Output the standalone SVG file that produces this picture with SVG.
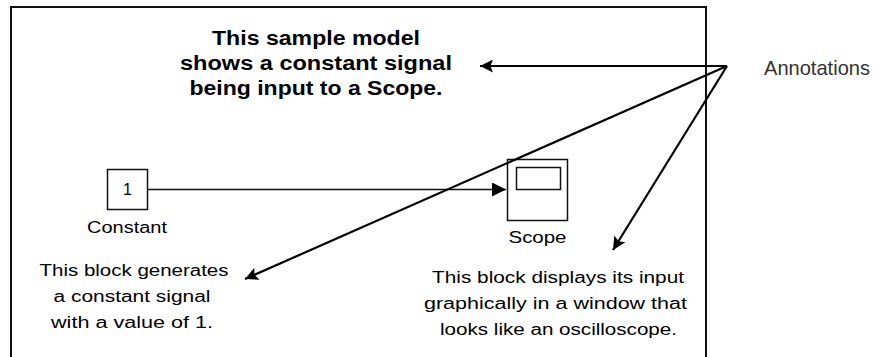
<svg xmlns="http://www.w3.org/2000/svg" width="881" height="357" viewBox="0 0 881 357">
<style>
.body{font-family:"Liberation Sans",Arial,sans-serif;font-size:16px;fill:#000;}
.title{font-family:"Liberation Sans",Arial,sans-serif;font-size:20px;font-weight:bold;fill:#000;}
.ann{font-family:"Liberation Sans",Arial,sans-serif;font-size:21px;fill:#333;}
.blk{fill:#fff;stroke:#111;stroke-width:1.5;}
.ptr{stroke:#000;stroke-width:2.2;fill:none;}
</style>
<defs>
<marker id="sig" viewBox="0 0 10 10" refX="10" refY="5" markerWidth="16" markerHeight="14" markerUnits="userSpaceOnUse" orient="auto">
<path d="M0,0 L10,5 L0,10 z" fill="#000"/>
</marker>
<marker id="ann" viewBox="0 0 10 10" refX="10" refY="5" markerWidth="16" markerHeight="13" markerUnits="userSpaceOnUse" orient="auto">
<path d="M0,0 L10,5 L0,10 L2,5 z" fill="#000"/>
</marker>
</defs>
<rect width="881" height="357" fill="#fff"/>
<g id="frame">
<path d="M11,357 L11,7 L706,7 L706,357" fill="none" stroke="#111" stroke-width="2"/>
</g>
<g id="title">
<text class="title" x="316" y="45" text-anchor="middle" textLength="208" lengthAdjust="spacingAndGlyphs">This sample model</text>
<text class="title" x="316" y="70" text-anchor="middle" textLength="272" lengthAdjust="spacingAndGlyphs">shows a constant signal</text>
<text class="title" x="316" y="95" text-anchor="middle" textLength="253" lengthAdjust="spacingAndGlyphs">being input to a Scope.</text>
</g>
<g id="constant">
<rect class="blk" x="107.5" y="169.5" width="40" height="40"/>
<text class="body" x="127.5" y="195" text-anchor="middle">1</text>
<text class="body" x="127" y="233" text-anchor="middle" textLength="80" lengthAdjust="spacingAndGlyphs">Constant</text>
</g>
<g id="scope">
<rect class="blk" x="507.5" y="159.5" width="60" height="61"/>
<rect class="blk" x="516.5" y="167.5" width="44" height="22"/>
<text class="body" x="537.5" y="243" text-anchor="middle" textLength="58" lengthAdjust="spacingAndGlyphs">Scope</text>
</g>
<g id="constant-note">
<text class="body" x="134" y="276" text-anchor="middle" textLength="189" lengthAdjust="spacingAndGlyphs">This block generates</text>
<text class="body" x="132" y="302" text-anchor="middle" textLength="157" lengthAdjust="spacingAndGlyphs">a constant signal</text>
<text class="body" x="132" y="328" text-anchor="middle" textLength="162" lengthAdjust="spacingAndGlyphs">with a value of 1.</text>
</g>
<g id="scope-note">
<text class="body" x="558" y="283" text-anchor="middle" textLength="252" lengthAdjust="spacingAndGlyphs">This block displays its input</text>
<text class="body" x="555.5" y="309" text-anchor="middle" textLength="263" lengthAdjust="spacingAndGlyphs">graphically in a window that</text>
<text class="body" x="558.5" y="335" text-anchor="middle" textLength="237" lengthAdjust="spacingAndGlyphs">looks like an oscilloscope.</text>
</g>
<g id="annotations">
<text class="ann" x="764" y="75" textLength="106" lengthAdjust="spacingAndGlyphs">Annotations</text>
</g>
<g id="connectors">
<line x1="148" y1="189.5" x2="506" y2="189.5" stroke="#111" stroke-width="1.5" marker-end="url(#sig)"/>
<line class="ptr" x1="727" y1="66" x2="480" y2="66" marker-end="url(#ann)"/>
<line class="ptr" x1="727" y1="66" x2="245" y2="279" marker-end="url(#ann)"/>
<line class="ptr" x1="727" y1="66" x2="613" y2="250" marker-end="url(#ann)"/>
</g>
</svg>
